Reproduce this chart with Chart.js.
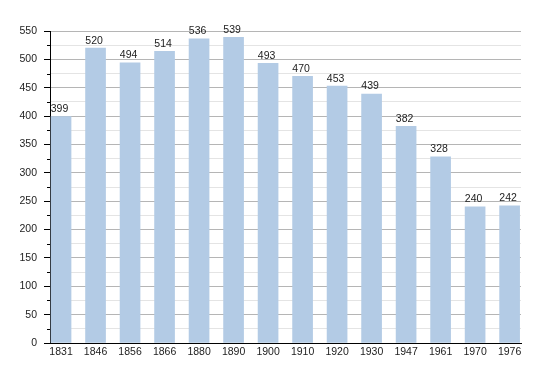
<!DOCTYPE html>
<html>
<head>
<meta charset="utf-8">
<script src="https://cdn.jsdelivr.net/npm/chart.js@4.4.1/dist/chart.umd.min.js"></script>
<style>
html,body{margin:0;padding:0;background:#fff;}
canvas{display:block;}
</style>
</head>
<body>
<canvas id="c" width="550" height="373"></canvas>
<script>
const years = ['1831','1846','1856','1866','1880','1890','1900','1910','1920','1930','1947','1961','1970','1976'];
const population = [399, 520, 494, 514, 536, 539, 493, 470, 453, 439, 382, 328, 240, 242];
const yMin = 0;
const yMax = 550;
const yLabelStep = 50;
const yMinorStep = 25;

const FONT = {family: '"Liberation Sans", Arial, sans-serif', size: 10.5};
const TEXT = '#222';

const minorTicks = {
  id: 'minorTicks',
  afterDraw(chart) {
    const s = chart.scales.y;
    const ctx = chart.ctx;
    ctx.save();
    ctx.strokeStyle = '#000';
    ctx.lineWidth = 1;
    for (let v = yMin + yMinorStep; v < yMax; v += yLabelStep) {
      const y = Math.round(s.getPixelForValue(v)) + 0.5;
      ctx.beginPath();
      ctx.moveTo(s.right - 3, y);
      ctx.lineTo(s.right, y);
      ctx.stroke();
    }
    ctx.restore();
  }
};

const valueLabels = {
  id: 'valueLabels',
  afterDatasetsDraw(chart) {
    const ctx = chart.ctx;
    const meta = chart.getDatasetMeta(0);
    ctx.save();
    ctx.font = FONT.size + 'px ' + FONT.family;
    ctx.fillStyle = TEXT;
    ctx.textAlign = 'center';
    ctx.textBaseline = 'alphabetic';
    meta.data.forEach((bar, i) => {
      ctx.fillText(String(population[i]), bar.x - 1.5, bar.y - 4.5);
    });
    ctx.restore();
  }
};

new Chart(document.getElementById('c'), {
  type: 'bar',
  data: {
    datasets: [{
      data: population.map((v, i) => ({x: i, y: v})),
      backgroundColor: '#b3cbe5',
      borderWidth: 0,
      barThickness: 20
    }]
  },
  options: {
    responsive: false,
    animation: false,
    devicePixelRatio: 1,
    layout: {padding: {top: 31, right: 29, left: 0, bottom: 0}},
    plugins: {legend: {display: false}, tooltip: {enabled: false}},
    scales: {
      x: {
        type: 'linear',
        offset: false,
        min: -0.32,
        max: 13.33,
        afterFit: s => { s.height = 30; },
        afterBuildTicks: s => { s.ticks = years.map((_, i) => ({value: i})); },
        grid: {display: false, drawTicks: false, offset: false},
        border: {display: true, color: '#000', width: 1},
        ticks: {
          autoSkip: false,
          maxRotation: 0,
          padding: 3,
          font: FONT,
          color: TEXT,
          callback: v => years[v] !== undefined ? years[v] : ''
        }
      },
      y: {
        min: yMin,
        max: yMax,
        afterFit: s => { s.width = 50; },
        ticks: {
          stepSize: yMinorStep,
          autoSkip: false,
          padding: 7,
          font: FONT,
          color: TEXT,
          callback: v => (v % yLabelStep === 0 ? String(v) : '')
        },
        grid: {
          color: c => (c.tick && c.tick.value % yLabelStep === 0 ? '#b5b5b5' : '#e4e4e4'),
          tickColor: c => (c.tick && c.tick.value % yLabelStep === 0 ? '#000' : 'rgba(0,0,0,0)'),
          tickLength: 6,
          lineWidth: 1
        },
        border: {display: true, color: '#000', width: 1}
      }
    }
  },
  plugins: [minorTicks, valueLabels]
});
</script>
</body>
</html>
